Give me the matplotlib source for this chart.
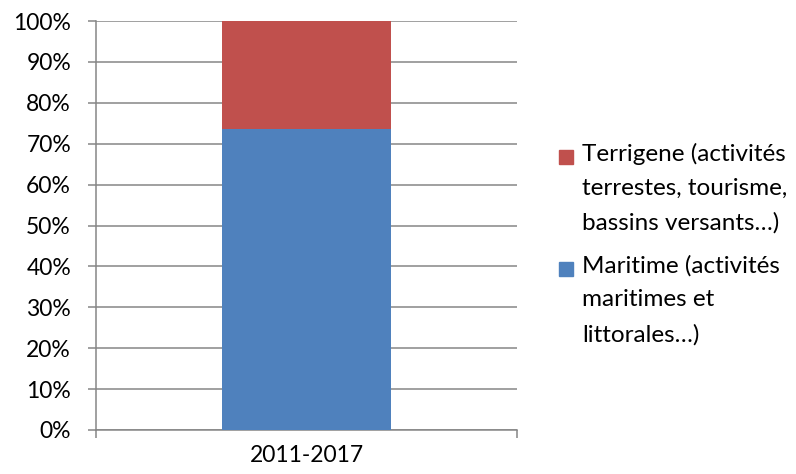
import matplotlib.pyplot as plt
from matplotlib.patches import Rectangle

plt.rcParams['font.family'] = ['Lato', 'DejaVu Sans']

categories = ["2011-2017"]
maritime = [73.6]
terrigene = [26.4]
labels = ["Maritime (activités\nmaritimes et\nlittorales…)",
          "Terrigene (activités\nterrestes, tourisme,\nbassins versants…)"]
colors = ["#4F81BD", "#C0504D"]
yticks = [0, 10, 20, 30, 40, 50, 60, 70, 80, 90, 100]

fig = plt.figure(figsize=(7.96, 4.74), dpi=100)
ax = fig.add_axes([96 / 796, 44 / 474, 421 / 796, 409 / 474])

x = list(range(len(categories)))
ax.bar(x, maritime, width=0.4, color=colors[0], zorder=3)
ax.bar(x, terrigene, width=0.4, bottom=maritime, color=colors[1], zorder=3)

ax.set_xlim(-0.5, 0.5)
ax.set_ylim(0, 100)
ax.set_yticks(yticks)
ax.set_yticklabels([f"{v}%" for v in yticks])
ax.yaxis.grid(True, color="#868686", lw=1.1, zorder=0)
ax.set_xticks(x)
ax.set_xticklabels(categories)
ax.set_xticks([-0.5, 0.5], minor=True)

gc = "#868686"
for s in ["top", "right"]:
    ax.spines[s].set_visible(False)
for s in ["left", "bottom"]:
    ax.spines[s].set_color(gc)
    ax.spines[s].set_linewidth(1.1)
ax.tick_params(axis="y", length=6, width=1.1, color=gc, pad=12, labelsize=16.5, labelcolor="#000000")
ax.tick_params(axis="x", which="major", length=0, pad=11, labelsize=16.5)
ax.tick_params(axis="x", which="minor", length=6, width=1.1, color=gc)

# legende (Terrigene en haut)
leg_y = [157, 269]
for lab, col, yy in zip(labels[::-1], colors[::-1], leg_y):
    fig.patches.append(Rectangle((559 / 796, 1 - (yy + 7) / 474), 14 / 796, 14 / 474,
                                 transform=fig.transFigure, color=col))
    fig.text(582 / 796, 1 - (yy - 14) / 474, lab, fontsize=17.5, va="top", ha="left",
             linespacing=1.76)

fig.savefig("out.png", dpi=100)
